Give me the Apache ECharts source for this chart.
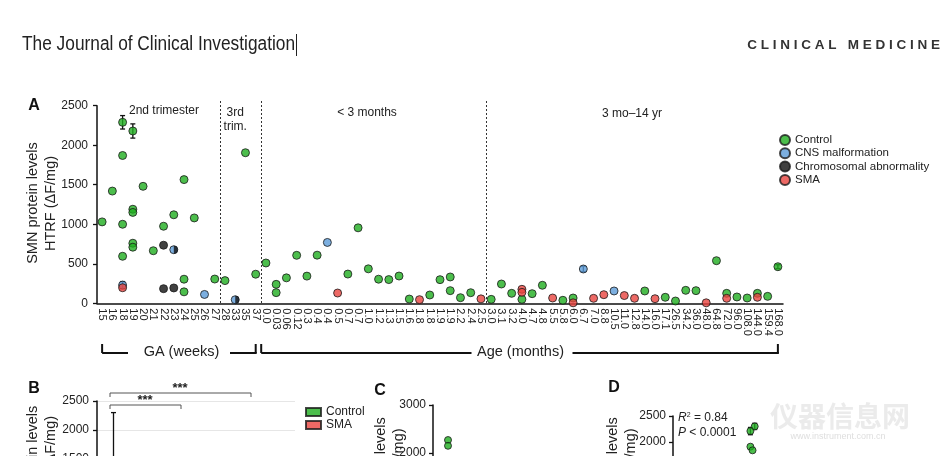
<!DOCTYPE html>
<html><head><meta charset="utf-8">
<script src="https://cdn.jsdelivr.net/npm/echarts@6/dist/echarts.min.js"></script>
<style>html,body{margin:0;padding:0;background:#fff}#c{width:950px;height:456px}</style>
</head><body><div id="c"></div>
<script>
// ---------- Panel A data ----------
const gaWeeks = ['15','16','18','19','20','21','22','23','24','25','26','27','28','33','35','37'];
const ageMonths = ['0.0','0.03','0.06','0.12','0.3','0.4','0.4','0.5','0.7','0.7','1.0','1.2','1.3','1.5','1.6','1.8','1.8','1.9','1.9','2.2','2.4','2.5','3.0','3.1','3.2','4.0','4.7','4.8','5.5','5.8','6.0','6.7','7.0','8.8','10.5','11.0','12.8','14.0','16.0','17.1','26.5','34.2','36.0','48.0','64.8','72.0','96.0','108.0','144.0','159.4','168.0'];
const yTicks = [0, 500, 1000, 1500, 2000, 2500];
// [category index, SMN level]
const controlPts = [[0,1030],[1,1420],[2,2290],[2,1870],[2,1000],[2,595],[3,2180],[3,1190],[3,1150],[3,760],[3,710],[4,1480],[5,665],[6,975],[7,1120],[8,1565],[8,305],[8,145],[9,1080],[11,307],[12,287],[14,1905],[15,368],
  [16,510],[17,240],[17,135],[18,322],[19,607],[20,344],[21,609],[24,370],[25,955],[26,436],[27,305],[28,300],[29,345],[30,54],[32,105],[33,299],[34,333],[34,160],[35,71],[36,134],[38,50],[39,244],[40,126],[41,50],[42,122],[43,228],[45,38],[46,67],[53,156],[55,76],[56,29],[57,164],[58,160],[60,539],[61,126],[62,80],[63,67],[64,126],[65,88],[66,463]];
const cnsPts = [[2,230],[7,678],[10,112],[13,45],[22,770],[47,434],[50,156]];
const chromPts = [[6,735],[6,185],[7,194]];
const chromHalfPts = [[7,678],[13,45]];
const smaPts = [[2,197],[23,130],[31,46],[37,56],[41,177],[41,139],[44,67],[46,6],[48,63],[49,109],[51,98],[52,63],[54,58],[59,6],[61,63],[64,76]];
// [category index, mean, error]
const errA = [[2,2290,85],[3,2180,90],[2,230,45],[47,434,35],[66,463,25]];

// ---------- Panel B data ----------
const bSlots = ['2nd trim. Ctrl','2nd trim. SMA','<3 mo Ctrl','<3 mo SMA','3 mo–14 yr Ctrl','3 mo–14 yr SMA'];
const bControl = [[0,1300],[2,330],[4,150]];
const bSMA = [[1,200],[3,80],[5,70]];
const bErr = [[0,1300,1000]];
// ---------- Panel C data ----------
const cGroups = ['Control','SMA'];
const cPts = [[0,2270],[0,2150]];
// ---------- Panel D data ----------
const dPts = [[19,2300],[18,2210],[18,1910],[18.5,1840]];
const dErr = [[19,2300,60],[18,2210,70]];

const GREEN='#1fae1f', BLUE='#5b9bd8', BLACK='#111111', RED='#e8433e', EDGE='#1a1a1a';
const FF = 'Liberation Sans, Arial, sans-serif';

function errRender(params, api){
  const x = api.value(0), m = api.value(1), e = api.value(2);
  const top = api.coord([x, m+e]), bot = api.coord([x, m-e]);
  const hw = 2.5, st = {stroke:'#111', lineWidth:1.3};
  return {type:'group', children:[
    {type:'line', shape:{x1:top[0],y1:top[1],x2:bot[0],y2:bot[1]}, style:st},
    {type:'line', shape:{x1:top[0]-hw,y1:top[1],x2:top[0]+hw,y2:top[1]}, style:st},
    {type:'line', shape:{x1:bot[0]-hw,y1:bot[1],x2:bot[0]+hw,y2:bot[1]}, style:st}
  ]};
}
const axisLineStyle = {color:'#111', width:1.5};
function yAx(gi, min, max, interval, margin, split){
  return {type:'value', gridIndex:gi, min, max, interval,
    axisLine:{show:true, lineStyle:axisLineStyle},
    axisTick:{show:true, length:4, lineStyle:{color:'#111', width:1.3}},
    axisLabel:{fontSize:12, color:'#222', fontFamily:FF, margin:margin, formatter:v=>String(v)},
    splitLine:{show:!!split, lineStyle:{color:'#e6e6e6', width:1}}};
}
const sym = (color)=>({color, borderColor:EDGE, borderWidth:1});
const gridBase = {outerBoundsMode:'none', containLabel:false};

const chart = echarts.init(document.getElementById('c'), null, {renderer:'canvas'});
const option = {
  animation:false,
  backgroundColor:'#fff',
  grid:[
    Object.assign({left:97, top:105.7, width:686, height:197.6}, gridBase),
    Object.assign({left:97, top:401, width:198, height:145}, gridBase),
    Object.assign({left:433, top:405, width:60, height:144}, gridBase),
    Object.assign({left:673, top:416, width:258, height:130}, gridBase)
  ],
  xAxis:[
    {type:'category', gridIndex:0, data:gaWeeks.concat(ageMonths), boundaryGap:true,
      axisLine:{lineStyle:axisLineStyle}, axisTick:{alignWithLabel:true, length:4, lineStyle:{color:'#111', width:1.3}},
      axisLabel:{interval:0, rotate:-90, fontSize:11, color:'#222', fontFamily:FF, margin:5}},
    {type:'category', gridIndex:1, data:bSlots, axisLine:{lineStyle:axisLineStyle}, axisTick:{show:false}, axisLabel:{show:false}},
    {type:'category', gridIndex:2, data:cGroups, axisLine:{lineStyle:axisLineStyle}, axisTick:{show:false}, axisLabel:{show:false}},
    {type:'value', gridIndex:3, min:0, max:60, axisLine:{lineStyle:axisLineStyle}, axisLabel:{show:false}, splitLine:{show:false}}
  ],
  yAxis:[
    yAx(0, yTicks[0], yTicks[yTicks.length-1], 500, 9, false),
    yAx(1, 0, 2500, 500, 8, true),
    yAx(2, 0, 3000, 1000, 7, false),
    yAx(3, 0, 2500, 500, 7, false)
  ],
  legend:[
    {data:['Control','CNS malformation','Chromosomal abnormality','SMA'], orient:'vertical', left:774, top:128.5,
      icon:'circle', itemWidth:10, itemHeight:10, itemGap:0.3, textStyle:{fontSize:11.5, lineHeight:13, color:'#222', fontFamily:FF}, selectedMode:false},
    {data:['Control','SMA'], orient:'vertical', left:300, top:400.5, icon:'rect', itemWidth:15, itemHeight:8, itemGap:0,
      textStyle:{fontSize:12, lineHeight:13, color:'#222', fontFamily:FF}, selectedMode:false}
  ],
  series:[
    {type:'custom', xAxisIndex:0, yAxisIndex:0, renderItem:errRender, data:errA, z:1, silent:true},
    {name:'Control', type:'scatter', xAxisIndex:0, yAxisIndex:0, data:controlPts, symbolSize:8, itemStyle:sym(GREEN), z:2},
    {name:'CNS malformation', type:'scatter', xAxisIndex:0, yAxisIndex:0, data:cnsPts, symbolSize:8, itemStyle:sym(BLUE), z:3},
    {name:'Chromosomal abnormality', type:'scatter', xAxisIndex:0, yAxisIndex:0, data:chromPts, symbolSize:8, itemStyle:sym(BLACK), z:4},
    {name:'chromHalf', type:'scatter', xAxisIndex:0, yAxisIndex:0, data:chromHalfPts, symbol:'path://M0,0 A10,10 0 0 1 0,20 Z',
      symbolSize:[4,8], symbolOffset:[2,0], itemStyle:{color:BLACK, borderWidth:0}, z:4},
    {name:'SMA', type:'scatter', xAxisIndex:0, yAxisIndex:0, data:smaPts, symbolSize:8, itemStyle:sym(RED), z:5},
    // Panel B
    {name:'Control', type:'bar', xAxisIndex:1, yAxisIndex:1, data:bControl, barWidth:20, itemStyle:sym(GREEN), z:2},
    {name:'SMA', type:'bar', xAxisIndex:1, yAxisIndex:1, data:bSMA, barWidth:20, barGap:'-100%', itemStyle:sym(RED), z:2},
    {type:'custom', xAxisIndex:1, yAxisIndex:1, renderItem:errRender, data:bErr, z:3, silent:true},
    // Panel C
    {name:'Control', type:'scatter', xAxisIndex:2, yAxisIndex:2, data:cPts, symbolSize:7, itemStyle:sym(GREEN)},
    // Panel D
    {type:'custom', xAxisIndex:3, yAxisIndex:3, renderItem:errRender, data:dErr, z:1, silent:true},
    {name:'Control', type:'scatter', xAxisIndex:3, yAxisIndex:3, data:dPts, symbolSize:7, itemStyle:sym(GREEN), z:2}
  ]
};
chart.setOption(option);

// ---------- annotations ----------
const px = i => chart.convertToPixel({xAxisIndex:0}, i);
const py = v => chart.convertToPixel({yAxisIndex:0}, v);
const y0 = py(0);
const mid = (a,b) => (px(a)+px(b))/2;
const txt = (text, x, y, size, extra) => Object.assign({type:'text', x, y, style:Object.assign({text, fill:'#222', font:size+'px '+FF, textAlign:'center', textVerticalAlign:'middle'}, extra||{})});
const vtxt = (text, x, y, size) => ({type:'text', x, y, rotation:Math.PI/2, style:{text, fill:'#222', font:size+'px '+FF, textAlign:'center', textVerticalAlign:'middle'}});
const ln = (x1,y1,x2,y2,w,dash,color) => ({type:'line', shape:{x1,y1,x2,y2}, style:{stroke:color||'#111', lineWidth:w, lineDash:dash||null}});

const g = [];
// dashed separators
[[11,12],[15,16],[37,38]].forEach(([a,b])=>{ const x=Math.round(mid(a,b))+0.5; g.push(ln(x,101,x,y0,1,[2,2],'#333')); });
// period labels
g.push(txt('2nd trimester', 164, 111, 12));
g.push(txt('3rd', mid(12,14), 112.5, 12));
g.push(txt('trim.', mid(12,14), 127, 12));
g.push(txt('< 3 months', 367, 113, 12));
g.push(txt('3 mo–14 yr', 632, 114, 12));
// brackets below axis
const by = 353, bt = 344;
const gaL = px(0), gaR = px(15), agL = px(15)+5.5, agR = px(66);
g.push(ln(gaL,bt,gaL,by,2), ln(gaL,by,128,by,2), ln(230,by,gaR+1,by,2), ln(gaR,bt,gaR,by,2));
g.push(ln(agL,bt,agL,by,2), ln(agL,by,471.5,by,2), ln(572.5,by,agR+1,by,2), ln(agR,bt,agR,by,2));
g.push(txt('GA (weeks)', 181.5, 352, 14.5));
g.push(txt('Age (months)', 520.5, 352, 14.5));
// y axis names
g.push(vtxt('SMN protein levels', 33, 203, 14.5), vtxt('HTRF (ΔF/mg)', 51, 203.5, 14.5));
g.push(vtxt('SMN protein levels', 33, 466.5, 14.5), vtxt('HTRF (ΔF/mg)', 51, 463.5, 14.5));
g.push(vtxt('SMN protein levels', 381, 478, 14.5), vtxt('HTRF (ΔF/mg)', 399, 476, 14.5));
g.push(vtxt('SMN protein levels', 613, 478, 14.5), vtxt('HTRF (ΔF/mg)', 631, 476, 14.5));
// panel letters
g.push(txt('A', 34, 106, 16, {font:'bold 16px '+FF, fill:'#111'}));
g.push(txt('B', 34, 389, 16, {font:'bold 16px '+FF, fill:'#111'}));
g.push(txt('C', 380, 391, 16, {font:'bold 16px '+FF, fill:'#111'}));
g.push(txt('D', 614, 388, 16, {font:'bold 16px '+FF, fill:'#111'}));
// B significance brackets
g.push(ln(110,393,251,393,1,null,'#555'), ln(110,393,110,397,1,null,'#555'), ln(251,393,251,397,1,null,'#555'));
g.push(txt('***', 180, 388, 13, {font:'bold 13px '+FF}));
g.push(ln(110,405,181,405,1,null,'#555'), ln(110,405,110,409,1,null,'#555'), ln(181,405,181,409,1,null,'#555'));
g.push(txt('***', 145, 400, 13, {font:'bold 13px '+FF}));
// D stats
g.push({type:'text', x:678, y:418, style:{text:'{i|R}{s|2} = 0.84', rich:{i:{fontStyle:'italic', fontSize:12, fontFamily:'Liberation Sans'}, s:{fontSize:7, verticalAlign:'top', padding:[0,0,6,0]}}, font:'12px '+FF, fill:'#222', textVerticalAlign:'middle'}});
g.push({type:'text', x:678, y:433, style:{text:'{i|P} < 0.0001', rich:{i:{fontStyle:'italic', fontSize:12}}, font:'12px '+FF, fill:'#222', textVerticalAlign:'middle'}});
// header
g.push({type:'text', x:22, y:45, scaleX:0.887, style:{text:'The Journal of Clinical Investigation', font:'19.5px "Liberation Sans", sans-serif', fill:'#222', textVerticalAlign:'middle'}});
g.push(ln(296.5,34,296.5,56,1,null,'#222'));
g.push({type:'text', x:940, y:45, style:{text:'C L I N I C A L   M E D I C I N E', font:'bold 13.5px '+FF, fill:'#333', textAlign:'right', textVerticalAlign:'middle'}});
// watermark
g.push({type:'text', x:840, y:416, z:-1, style:{text:'仪器信息网', font:'bold 28px "Noto Sans CJK SC"', fill:'rgba(215,215,215,0.5)', textAlign:'center', textVerticalAlign:'middle'}});
g.push({type:'text', x:838, y:437, z:-1, style:{text:'www.instrument.com.cn', font:'9px '+FF, fill:'rgba(200,200,200,0.6)', textAlign:'center', textVerticalAlign:'middle'}});

chart.setOption({graphic:g});
</script></body></html>
